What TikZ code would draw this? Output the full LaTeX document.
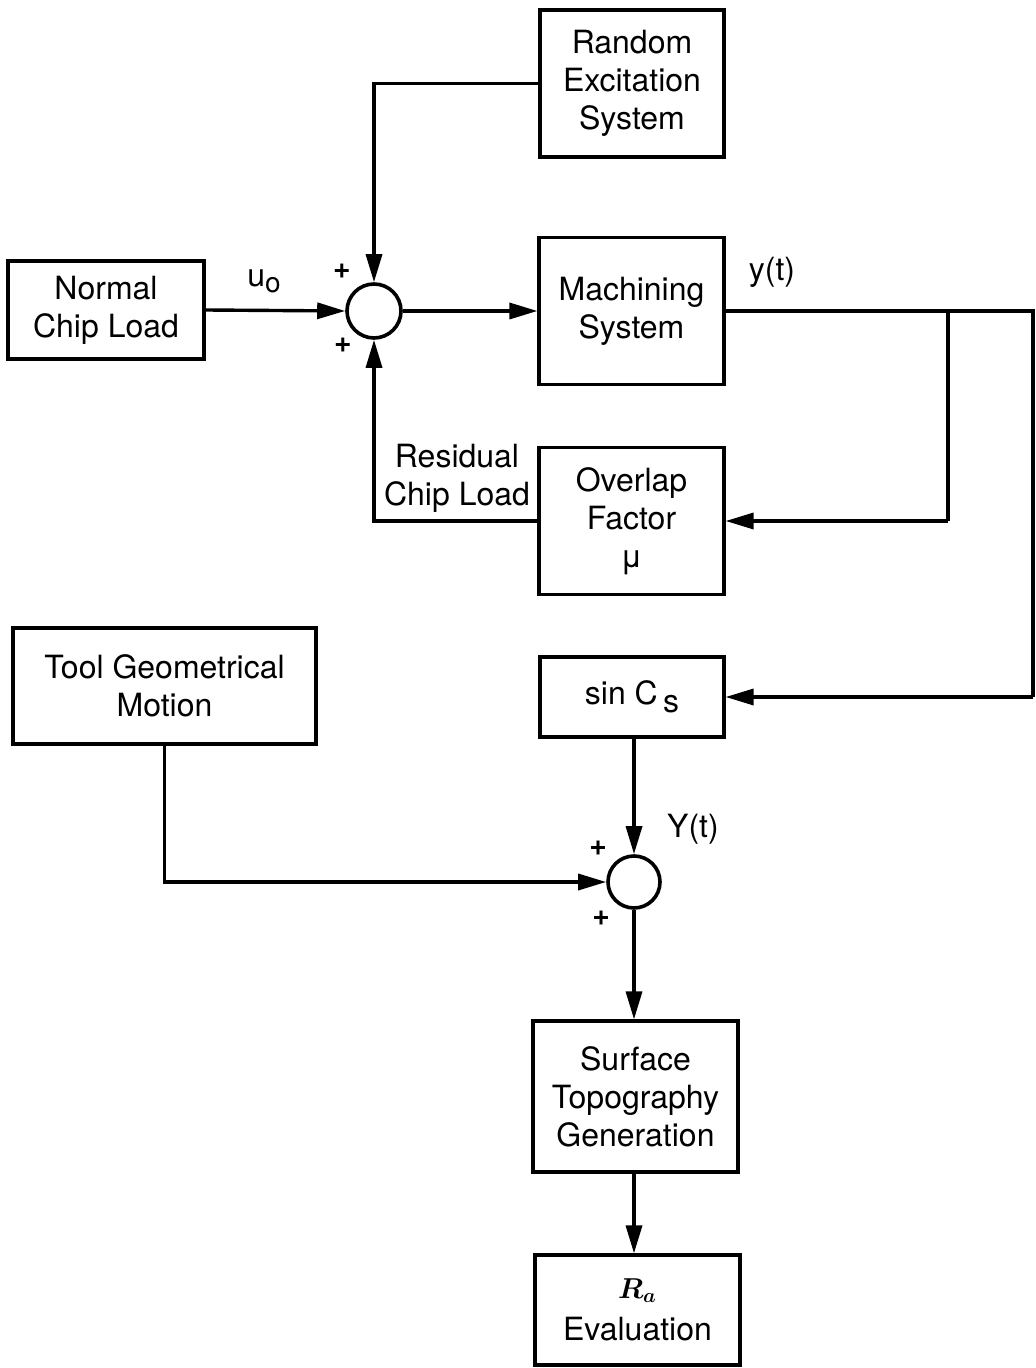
\documentclass[tikz,border=0pt]{standalone}
\usepackage{fontspec}
\setmainfont{TeX Gyre Heros}
\usepackage{bm}
\usetikzlibrary{arrows.meta}
\begin{document}
\begin{tikzpicture}[x=0.5pt,y=-0.5pt,
  font=\fontsize{16}{19}\selectfont,
  blk/.style={draw,line width=1.6pt,align=center,inner sep=0pt},
  sumnode/.style={draw,circle,line width=1.8pt,inner sep=0pt},
  wire/.style={line width=1.7pt},
  arr/.style={line width=1.7pt,-{Triangle[length=14pt,width=8pt]}},
  lbl/.style={inner sep=0pt},
  plus/.style={inner sep=0pt,font=\fontsize{15}{18}\selectfont\bfseries}]
\useasboundingbox (0,0) rectangle (1035,1368);
\node[blk,minimum width=92pt,minimum height=73.5pt] (rand) at (632,83.5) {Random\\Excitation\\System};
\node[blk,minimum width=98pt,minimum height=49pt] (normal) at (106,310) {Normal\\Chip Load};
\node[blk,minimum width=92.5pt,minimum height=73.5pt] (mach) at (631.5,311) {Machining\\System};
\node[blk,minimum width=92.5pt,minimum height=73.5pt] (overlap) at (631.5,521) {Overlap\\Factor\\μ};
\node[blk,minimum width=151.5pt,minimum height=58pt] (tool) at (164.5,686) {Tool Geometrical\\Motion};
\node[blk,minimum width=92pt,minimum height=40pt] (sinc) at (632,697) {sin C\,\raisebox{-0.45ex}{s}};
\node[blk,minimum width=102.5pt,minimum height=75.5pt] (surf) at (635.5,1096.5) {Surface\\Topography\\Generation};
\node[blk,minimum width=102.5pt,minimum height=55pt] (ra) at (637.5,1310) {{\fontsize{14}{16}\selectfont$\bm{R_a}$}\\[2pt]Evaluation};
\node[sumnode,minimum size=27pt] (sum1) at (374,311) {};
\node[sumnode,minimum size=26pt] (sum2) at (634,882) {};
\coordinate (br) at (948,311);
\coordinate (rc) at (1033,311);
\coordinate (rcb) at (1033,697);
% connectors
\draw[arr] (rand.west) -| (sum1.north);
\draw[arr] (normal.east) -- (sum1.west);
\draw[arr] (sum1.east) -- (sum1.east -| mach.west);
\draw[wire] (mach.east) -- (rc) -- (rcb);
\draw[arr] (rcb) -- (sinc.east);
\draw[wire] (br) -- (br |- overlap.east);
\draw[arr] (br |- overlap.east) -- (overlap.east);
\draw[arr] (overlap.west) -| (sum1.south);
\draw[arr] (tool.south) |- (sum2.west);
\draw[arr] (sinc.south -| sum2) -- (sum2.north);
\draw[arr] (sum2.south) -- (sum2.south |- surf.north);
\draw[arr] (surf.south -| sum2) -- (sum2 |- ra.north);
% labels
\node[lbl] (uo) at (264,281) {u\raisebox{-0.35ex}{\fontsize{14}{16}\selectfont o}};
\node[plus] (p1) at (342,271) {+};
\node[plus] (p2) at (343,345) {+};
\node[lbl] (yt) at (772,272) {y(t)};
\node[lbl,align=center] (res) at (457,478) {Residual\\Chip Load};
\node[lbl] (Yt) at (693,829) {Y(t)};
\node[plus] (p3) at (598,848) {+};
\node[plus] (p4) at (601,918) {+};
\end{tikzpicture}
\end{document}
